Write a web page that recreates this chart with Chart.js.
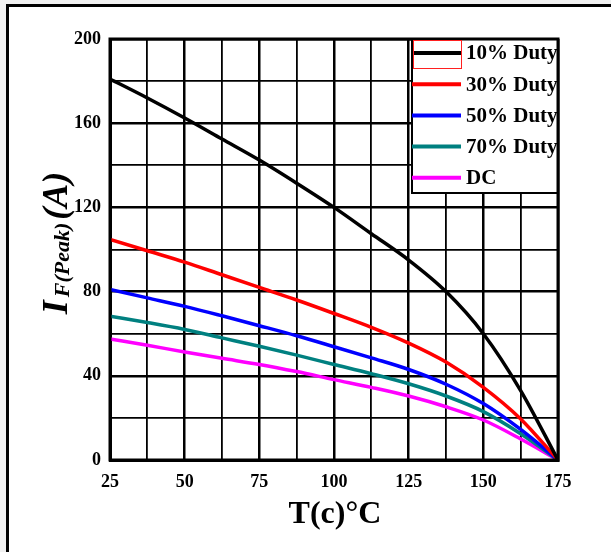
<!DOCTYPE html>
<html>
<head>
<meta charset="utf-8">
<script src="https://cdn.jsdelivr.net/npm/chart.js@4"></script>
<style>
  html, body { margin: 0; padding: 0; background: #f0f0f0; }
  #wrap { width: 611px; height: 552px; }
</style>
</head>
<body>
<div id="wrap"><canvas id="myChart" width="611" height="552"></canvas></div>
<script>
// temperature points (°C)
const temps = [25, 37.5, 50, 62.5, 75, 87.5, 100, 112.5, 125, 137.5, 150, 162.5, 175];

const duty10 = [181, 172, 162.5, 152.5, 142.5, 131.5, 120, 107.5, 95, 80, 60, 33, 0];
const duty30 = [104.8, 99.4, 94, 88, 82, 76, 69.6, 63, 55.5, 46.5, 34.5, 19.5, 0];
const duty50 = [81, 77, 73, 68.5, 63.8, 59, 53.8, 48.5, 43, 36, 26.8, 14.5, 0];
const duty70 = [68.3, 65.3, 62, 58, 54, 49.8, 45.4, 41, 36.2, 30.4, 23, 12.5, 0];
const dcCurve = [57.5, 54.5, 51.3, 48.3, 45.4, 42, 38.2, 34.5, 30.4, 25.3, 19, 10, 0];

const seriesLabels = ['10% Duty', '30% Duty', '50% Duty', '70% Duty', 'DC'];
const seriesColors = ['#000000', '#ff0000', '#0000ff', '#008080', '#ff00ff'];

const xTicks = [25, 50, 75, 100, 125, 150, 175];
const yTicks = [0, 40, 80, 120, 160, 200];

function toPoints(arr) {
    let pts = [];
    for (let i = 0; i < temps.length; i++) {
        pts.push({x: temps[i], y: arr[i]});
    }
    return pts;
}

const allSeries = [duty10, duty30, duty50, duty70, dcCurve];
let datasets = [];
for (let i = 0; i < allSeries.length; i++) {
    datasets.push({
        label: seriesLabels[i],
        data: toPoints(allSeries[i]),
        borderColor: seriesColors[i],
        borderWidth: 3.5,
        pointRadius: 0,
        cubicInterpolationMode: 'monotone',
        fill: false
    });
}

const serif = '"Liberation Serif", "Times New Roman", serif';

// frame around the figure
const framePlugin = {
    id: 'frame',
    beforeDraw(chart) {
        const ctx = chart.ctx;
        ctx.save();
        ctx.fillStyle = '#f0f0f0';
        ctx.fillRect(0, 0, chart.width, chart.height);
        ctx.fillStyle = '#ffffff';
        ctx.fillRect(6, 4, chart.width, chart.height);
        ctx.fillStyle = '#000000';
        ctx.fillRect(6, 4, chart.width, 3);
        ctx.fillRect(6, 4, 3, chart.height);
        ctx.restore();
    }
};

// legend box + axis titles
const extrasPlugin = {
    id: 'extras',
    afterDatasetsDraw(chart) {
        const ctx = chart.ctx;
        const area = chart.chartArea;
        ctx.save();
        // legend box
        const lx = 412, ly = area.top, lw = area.right - 412, lh = 154;
        ctx.fillStyle = '#ffffff';
        ctx.fillRect(lx, ly, lw, lh);
        ctx.strokeStyle = '#000';
        ctx.lineWidth = 2;
        ctx.beginPath();
        ctx.moveTo(lx, ly);
        ctx.lineTo(lx, ly + lh);
        ctx.lineTo(lx + lw, ly + lh);
        ctx.stroke();
        ctx.lineWidth = 3;
        ctx.strokeRect(area.left, area.top, area.right - area.left, area.bottom - area.top);

        ctx.font = 'bold 21px ' + serif;
        ctx.textBaseline = 'middle';
        ctx.textAlign = 'left';
        for (let i = 0; i < seriesLabels.length; i++) {
            const yy = 53 + i * 31.2;
            ctx.strokeStyle = seriesColors[i];
            ctx.lineWidth = 4;
            ctx.beginPath();
            ctx.moveTo(lx, yy);
            ctx.lineTo(lx + 49, yy);
            ctx.stroke();
            ctx.fillStyle = '#000';
            ctx.fillText(seriesLabels[i], lx + 54, yy + 1);
        }
        // red selection box around first sample
        ctx.strokeStyle = '#ff2020';
        ctx.lineWidth = 1;
        ctx.strokeRect(413.5, 40.5, 48, 28);

        // x title
        ctx.fillStyle = '#000';
        ctx.textAlign = 'center';
        ctx.textBaseline = 'alphabetic';
        ctx.font = 'bold 32px ' + serif;
        ctx.fillText('T(c)°C', 335, 523);

        // y title: I F(Peak) (A), rotated
        ctx.translate(67, 243);
        ctx.rotate(-Math.PI / 2);
        const big = 'italic bold 36px ' + serif;
        const small = 'italic bold 22px ' + serif;
        ctx.font = big;
        const w1 = ctx.measureText('I').width;
        const w3 = ctx.measureText('(A)').width;
        ctx.font = small;
        const w2 = ctx.measureText('F(Peak)').width;
        let x0 = -(w1 + w2 + w3 + 6) / 2;
        ctx.textAlign = 'left';
        ctx.font = big;
        ctx.fillText('I', x0, 0);
        x0 += w1 + 3;
        ctx.font = small;
        ctx.fillText('F(Peak)', x0, 2);
        x0 += w2 + 3;
        ctx.font = big;
        ctx.fillText('(A)', x0, 0);
        ctx.restore();
    }
};

const canvas = document.getElementById('myChart').getContext('2d');
const myChart = new Chart(canvas, {
    type: 'line',
    data: { datasets: datasets },
    plugins: [framePlugin, extrasPlugin],
    options: {
        responsive: false,
        animation: false,
        layout: { padding: { left: 0, right: 53, top: 39, bottom: 0 } },
        plugins: {
            legend: { display: false },
            tooltip: { enabled: false }
        },
        scales: {
            x: {
                type: 'linear',
                min: 25,
                max: 175,
                afterFit: function(scale) { scale.height = 92; },
                ticks: {
                    stepSize: 12.5,
                    autoSkip: false,
                    maxRotation: 0,
                    padding: 12,
                    color: '#000',
                    font: { family: serif, size: 18, weight: 'bold' },
                    callback: function(v) { return xTicks.includes(v) ? String(v) : ''; }
                },
                grid: {
                    color: '#000',
                    drawTicks: false,
                    lineWidth: function(c) { return (c.tick && c.tick.value % 25 === 0) ? 2.5 : 1.8; }
                },
                border: { display: true, color: '#000', width: 3 }
            },
            y: {
                min: 0,
                max: 200,
                afterFit: function(scale) { scale.width = 110; },
                ticks: {
                    stepSize: 20,
                    autoSkip: false,
                    padding: 9,
                    color: '#000',
                    font: { family: serif, size: 18, weight: 'bold' },
                    callback: function(v) { return yTicks.includes(v) ? String(v) : ''; }
                },
                grid: {
                    color: '#000',
                    drawTicks: false,
                    lineWidth: function(c) { return (c.tick && c.tick.value % 40 === 0) ? 2.5 : 1.8; }
                },
                border: { display: true, color: '#000', width: 3 }
            }
        }
    }
});
</script>
</body>
</html>
